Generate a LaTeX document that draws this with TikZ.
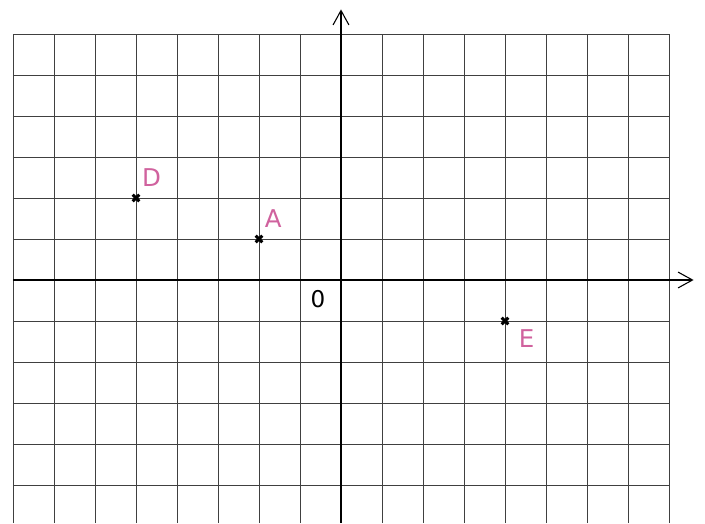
\documentclass[tikz,border=0pt]{standalone}
\usepackage{fontspec}
\setmainfont{DejaVu Sans}
\usetikzlibrary{arrows.meta,calc}
\definecolor{lbl}{RGB}{208,98,158}
\tikzset{
  gridline/.style={draw=black!75, line width=0.6pt},
  axis/.style={draw=black, line width=0.75pt, -{Straight Barb[length=10pt,width=11pt,line width=0.75pt]}},
  cross/.style={line width=2pt},
  ptlabel/.style={text=lbl, font=\fontsize{17}{17}\selectfont, inner sep=1pt}
}
\begin{document}
\begin{tikzpicture}
\useasboundingbox (-341/41,-243/41) rectangle (364/41,280/41);
\draw[gridline] (-8,-5.93) grid (8,6);
\draw[axis] (-8,0) -- (8.6,0);
\draw[axis] (0,-5.93) -- (0,6.6);
\node[font=\fontsize{16}{16}\selectfont, inner sep=0pt] (o) at (-0.56,-0.46) {0};
\foreach \n/\x/\y/\dx/\dy in {D/-5/2/0.38/0.5, A/-2/1/0.35/0.5, E/4/-1/0.53/-0.42} {
  \coordinate (p\n) at (\x,\y);
  \draw[cross] ($(p\n)+(-0.08,-0.08)$) -- ($(p\n)+(0.08,0.08)$);
  \draw[cross] ($(p\n)+(-0.08,0.08)$) -- ($(p\n)+(0.08,-0.08)$);
  \node[ptlabel] (l\n) at ($(p\n)+(\dx,\dy)$) {\n};
}
\end{tikzpicture}
\end{document}
